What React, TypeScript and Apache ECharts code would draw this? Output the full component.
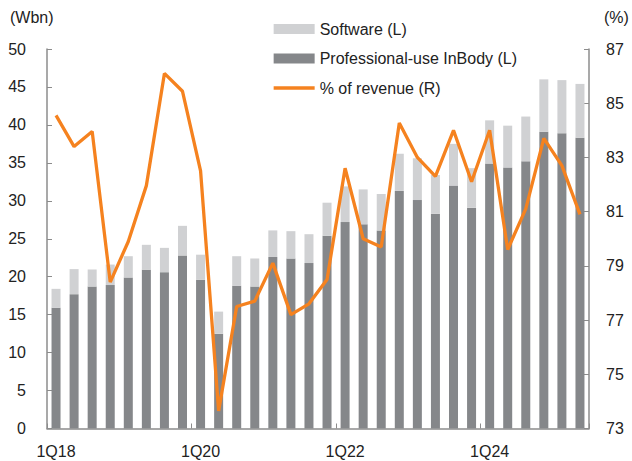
import React, { useEffect, useRef } from "react";
import * as echarts from "echarts";

const quarters: string[] = [
  "1Q18", "2Q18", "3Q18", "4Q18",
  "1Q19", "2Q19", "3Q19", "4Q19",
  "1Q20", "2Q20", "3Q20", "4Q20",
  "1Q21", "2Q21", "3Q21", "4Q21",
  "1Q22", "2Q22", "3Q22", "4Q22",
  "1Q23", "2Q23", "3Q23", "4Q23",
  "1Q24", "2Q24", "3Q24", "4Q24",
  "1Q25", "2Q25",
];

// Professional-use InBody (W bn)
const professional: number[] = [
  15.9, 17.7, 18.7, 18.9, 19.9, 20.9, 20.6, 22.8,
  19.6, 12.5, 18.8, 18.7, 22.6, 22.4, 21.8, 25.4,
  27.2, 26.9, 26.1, 31.3, 30.1, 28.3, 32.0, 29.1,
  34.9, 34.4, 35.2, 39.1, 38.9, 38.3,
];

// Software (W bn)
const software: number[] = [
  2.5, 3.3, 2.25, 2.7, 2.8, 3.3, 3.2, 3.9,
  3.3, 2.9, 3.9, 3.7, 3.5, 3.6, 3.8, 4.35,
  4.7, 4.6, 4.8, 4.9, 5.5, 5.1, 5.5, 5.2,
  5.7, 5.5, 5.9, 6.9, 7.0, 7.1,
];

// % of revenue (R)
const pctRevenue: number[] = [
  84.55, 83.4, 83.96, 78.4, 79.9, 81.96, 86.1, 85.44,
  82.5, 73.65, 77.5, 77.7, 79.1, 77.2, 77.6, 78.5,
  82.6, 80.0, 79.7, 84.27, 83.0, 82.3, 84.0, 82.1,
  84.0, 79.6, 81.1, 83.7, 82.7, 80.9,
];

const FONT = "'Liberation Sans', Arial, sans-serif";
const AXIS_GRAY = "#8c8c8c";
const ORANGE = "#f5821f";

export default function App() {
  const ref = useRef<HTMLDivElement>(null);

  useEffect(() => {
    if (!ref.current) return;
    const chart = echarts.init(ref.current, undefined, { renderer: "svg" });
    chart.setOption({
      animation: false,
      backgroundColor: "#ffffff",
      textStyle: { fontFamily: FONT },
      grid: { left: 47, right: 43, top: 49, bottom: 32.5, containLabel: false },
      legend: {
        orient: "vertical",
        left: 272,
        top: 21,
        padding: 0,
        itemWidth: 41,
        itemHeight: 10,
        itemGap: 13.5,
        textStyle: { fontFamily: FONT, fontSize: 16, color: "#222", lineHeight: 16 },
        data: [
          { name: "Software (L)", icon: "rect" },
          { name: "Professional-use InBody (L)", icon: "rect" },
          {
            name: "% of revenue (R)",
            itemStyle: { opacity: 0 },
            lineStyle: { width: 3.3, color: ORANGE },
          },
        ],
      },
      graphic: [
        {
          type: "text",
          left: 10,
          top: 9,
          style: { text: "(Wbn)", fontFamily: FONT, fontSize: 16, fill: "#222" },
        },
        {
          type: "text",
          left: 604,
          top: 9,
          style: { text: "(%)", fontFamily: FONT, fontSize: 16, fill: "#222" },
        },
      ],
      xAxis: {
        type: "category",
        data: quarters,
        boundaryGap: true,
        axisLine: { lineStyle: { color: AXIS_GRAY, width: 1.5 } },
        axisTick: { show: true, inside: true, length: 5, lineStyle: { color: AXIS_GRAY } },
        axisLabel: {
          interval: 7,
          margin: 15,
          fontFamily: FONT,
          fontSize: 16,
          color: "#222",
        },
        splitLine: { show: false },
      },
      yAxis: [
        {
          type: "value",
          min: 0,
          max: 50,
          interval: 5,
          axisLine: { show: true, lineStyle: { color: AXIS_GRAY, width: 1.5 } },
          axisTick: { show: true, inside: true, length: 5, lineStyle: { color: AXIS_GRAY } },
          axisLabel: { margin: 21, fontFamily: FONT, fontSize: 16, color: "#222" },
          splitLine: { show: false },
        },
        {
          type: "value",
          min: 73,
          max: 87,
          interval: 2,
          position: "right",
          axisLine: { show: true, lineStyle: { color: AXIS_GRAY, width: 1.5 } },
          axisTick: { show: true, inside: true, length: 5, lineStyle: { color: AXIS_GRAY } },
          axisLabel: { margin: 17, fontFamily: FONT, fontSize: 16, color: "#222" },
          splitLine: { show: false },
        },
      ],
      series: [
        {
          name: "Professional-use InBody (L)",
          type: "bar",
          stack: "rev",
          data: professional,
          barWidth: 9,
          itemStyle: { color: "#85878a" },
          yAxisIndex: 0,
        },
        {
          name: "Software (L)",
          type: "bar",
          stack: "rev",
          data: software,
          barWidth: 9,
          itemStyle: { color: "#d0d1d3" },
          yAxisIndex: 0,
        },
        {
          name: "% of revenue (R)",
          type: "line",
          data: pctRevenue,
          yAxisIndex: 1,
          symbol: "none",
          lineStyle: { color: ORANGE, width: 3.3 },
          itemStyle: { color: ORANGE },
          z: 5,
        },
      ],
    });
    return () => chart.dispose();
  }, []);

  return (
    <div
      ref={ref}
      style={{ position: "fixed", left: 0, top: 0, width: 632, height: 461 }}
    />
  );
}
